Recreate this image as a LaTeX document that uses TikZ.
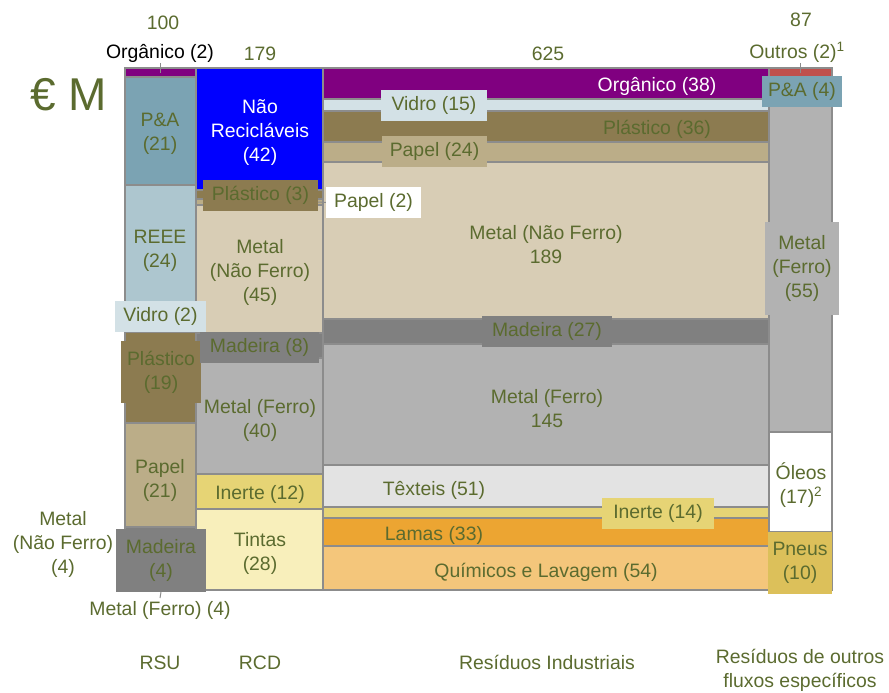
\documentclass[tikz,border=0pt]{standalone}
\usepackage{fontspec}
\setmainfont{Liberation Sans}
\definecolor{txt}{HTML}{5B6B2F}
\definecolor{segline}{HTML}{8C8C8C}
\definecolor{cOrg}{HTML}{800080}
\definecolor{cPA}{HTML}{7BA3B3}
\definecolor{cREEE}{HTML}{ADC6CF}
\definecolor{cVid}{HTML}{D3E1E6}
\definecolor{cPla}{HTML}{8C7B50}
\definecolor{cPap}{HTML}{BBAD88}
\definecolor{cMad}{HTML}{808080}
\definecolor{cMNF}{HTML}{D8CDB5}
\definecolor{cMF}{HTML}{B2B2B2}
\definecolor{cNR}{HTML}{0000FF}
\definecolor{cIne}{HTML}{E6D475}
\definecolor{cTin}{HTML}{F8EFBB}
\definecolor{cTex}{HTML}{E3E3E3}
\definecolor{cLam}{HTML}{ECA532}
\definecolor{cQui}{HTML}{F4C67B}
\definecolor{cOut}{HTML}{C0504D}
\definecolor{cPne}{HTML}{DCC05A}
\begin{document}
\begin{tikzpicture}[x=1pt,y=-1pt,
  seg/.style={draw=segline,line width=1.5pt,fill=#1},
  base/.style={text=txt,font=\fontsize{19.4}{24}\selectfont,align=center,inner sep=0pt},
  lbl/.style={base,yshift=-2.5pt},
  lbox/.style={base,fill=#1},
  tick/.style={draw=segline,line width=1pt}]
\useasboundingbox (0,0) rectangle (889,693);
% ---------- RSU ----------
\path[seg=cOrg] (125,68) rectangle (196,77);
\path[seg=cPA] (125,77) rectangle (196,185);
\path[seg=cREEE] (125,185) rectangle (196,321);
\path[seg=cVid] (125,321) rectangle (196,332);
\path[seg=cPla] (125,332) rectangle (196,423);
\path[seg=cPap] (125,423) rectangle (196,527);
\path[seg=cMad] (125,527) rectangle (196,548);
\path[seg=cMNF] (125,548) rectangle (196,569);
\path[seg=cMF] (125,569) rectangle (196,590);
% ---------- RCD ----------
\path[seg=cNR] (196,68) rectangle (323,190);
\path[seg=cPla] (196,190) rectangle (323,199);
\path[seg=cPap] (196,199) rectangle (323,205);
\path[seg=cMNF] (196,205) rectangle (323,333);
\path[seg=cMad] (196,333) rectangle (323,358);
\path[seg=cMF] (196,358) rectangle (323,474);
\path[seg=cIne] (196,474) rectangle (323,509);
\path[seg=cTin] (196,509) rectangle (323,590);
% ---------- Industriais ----------
\path[seg=cOrg] (323,68) rectangle (769,99);
\path[seg=cVid] (323,99) rectangle (769,111);
\path[seg=cPla] (323,111) rectangle (769,142);
\path[seg=cPap] (323,142) rectangle (769,162);
\path[seg=cMNF] (323,162) rectangle (769,319);
\path[seg=cMad] (323,319) rectangle (769,344);
\path[seg=cMF] (323,344) rectangle (769,465);
\path[seg=cTex] (323,465) rectangle (769,507);
\path[seg=cIne] (323,507) rectangle (769,518);
\path[seg=cLam] (323,518) rectangle (769,546);
\path[seg=cQui] (323,546) rectangle (769,590);
% ---------- Outros fluxos ----------
\path[seg=cOut] (769,68) rectangle (832,78);
\path[seg=cPA] (769,78) rectangle (832,102);
\path[seg=cMF] (769,102) rectangle (832,432);
\path[seg=white] (769,432) rectangle (832,532);
\path[seg=cPne] (769,532) rectangle (832,590);

% ---------- header ----------
\node[base,font=\fontsize{46}{50}\selectfont] (eur) at (69,95) {€ M};
\node[lbl] (n100) at (163,20) {100};
\node[lbl] (n179) at (260,51) {179};
\node[lbl] (n625) at (548,51) {625};
\node[lbl] (n87) at (801,17) {87};
\node[lbl,text=black] (org2) at (160,51) {Orgânico (2)};
\coordinate (org2t) at (160,73);
\draw[tick] (org2.south) -- (org2t);
\node[lbl] (out2) at (797,50) {Outros (2)\textsuperscript{1}};
\coordinate (out2t) at (800,73);
\draw[tick] (800,63) -- (out2t);

% ---------- RSU labels ----------
\node[lbl] (pa21) at (160,131) {P\&A\\(21)};
\node[lbl] (reee) at (160,248) {REEE\\(24)};
\node[lbox=cVid,minimum width=91pt,minimum height=31pt] (vid2) at (160.5,316.5) {Vidro (2)};
\node[lbox=cPla,minimum width=80pt,minimum height=62pt] (pla19) at (161,372) {Plástico\\(19)};
\node[lbl] (pap21) at (160,478) {Papel\\(21)};
\node[lbox=cMad,minimum width=90pt,minimum height=63pt] (mad4) at (161,560.5) {Madeira\\(4)};
\node[lbl] (mnf4) at (63,542) {Metal\\(Não Ferro)\\(4)};
\node[lbl] (mf4) at (160,608) {Metal (Ferro) (4)};
\coordinate (mf4t) at (160,598);
\draw[tick] (mad4.south) -- (mf4t);

% ---------- RCD labels ----------
\node[lbl,text=white] (nr) at (260,130) {Não\\Recicláveis\\(42)};
\node[lbox=cPla,minimum width=115pt,minimum height=31pt] (pla3) at (260.5,195.5) {Plástico (3)};
\node[lbox=white,minimum width=95pt,minimum height=31pt] (pap2) at (373.5,202.5) {Papel (2)};
\coordinate (pap2t) at (318,202);
\draw[tick] (pap2t) -- (pap2.west);
\node[lbl] (mnf45) at (260,270) {Metal\\(Não Ferro)\\(45)};
\node[lbox=cMad,minimum width=119pt,minimum height=31pt] (mad8) at (259.5,347.5) {Madeira (8)};
\node[lbl] (mf40) at (260,418) {Metal (Ferro)\\(40)};
\node[lbl] (ine12) at (260,492) {Inerte (12)};
\node[lbl] (tin28) at (260,551) {Tintas\\(28)};

% ---------- Industriais labels ----------
\node[lbl,text=white] (org38) at (657,84) {Orgânico (38)};
\node[lbox=cVid,minimum width=106pt,minimum height=31pt] (vid15) at (434,105.5) {Vidro (15)};
\node[lbl] (pla36) at (657,127) {Plástico (36)};
\node[lbox=cPap,minimum width=105pt,minimum height=31pt] (pap24) at (434.5,151.5) {Papel (24)};
\node[lbl] (mnf189) at (546,242) {Metal (Não Ferro)\\189};
\node[lbox=cMad,minimum width=130pt,minimum height=31pt] (mad27) at (547,331.5) {Madeira (27)};
\node[lbl] (mf145) at (547,406) {Metal (Ferro)\\145};
\node[lbl] (tex51) at (434,488) {Têxteis (51)};
\node[lbox=cIne,minimum width=112pt,minimum height=31pt] (ine14) at (658,513.5) {Inerte (14)};
\node[lbl] (lam33) at (434,533) {Lamas (33)};
\node[lbl] (qui54) at (546,570) {Químicos e Lavagem (54)};

% ---------- Outros fluxos labels ----------
\node[lbox=cPA,minimum width=80pt,minimum height=31pt] (pa4) at (802,91.5) {P\&A (4)};
\node[lbox=cMF,minimum width=74pt,minimum height=93pt] (mf55) at (802,268.5) {Metal\\(Ferro)\\(55)};
\node[lbl] (ole17) at (801,483) {Óleos\\(17)\textsuperscript{2}};
\node[lbox=cPne,minimum width=64pt,minimum height=62pt] (pne10) at (800,563) {Pneus\\(10)};

% ---------- column captions ----------
\node[lbl] (rsu) at (160,660) {RSU};
\node[lbl] (rcd) at (260,660) {RCD};
\node[lbl] (ri) at (547,660) {Resíduos Industriais};
\node[base] (rof) at (800,670) {Resíduos de outros\\fluxos específicos};
\end{tikzpicture}
\end{document}
